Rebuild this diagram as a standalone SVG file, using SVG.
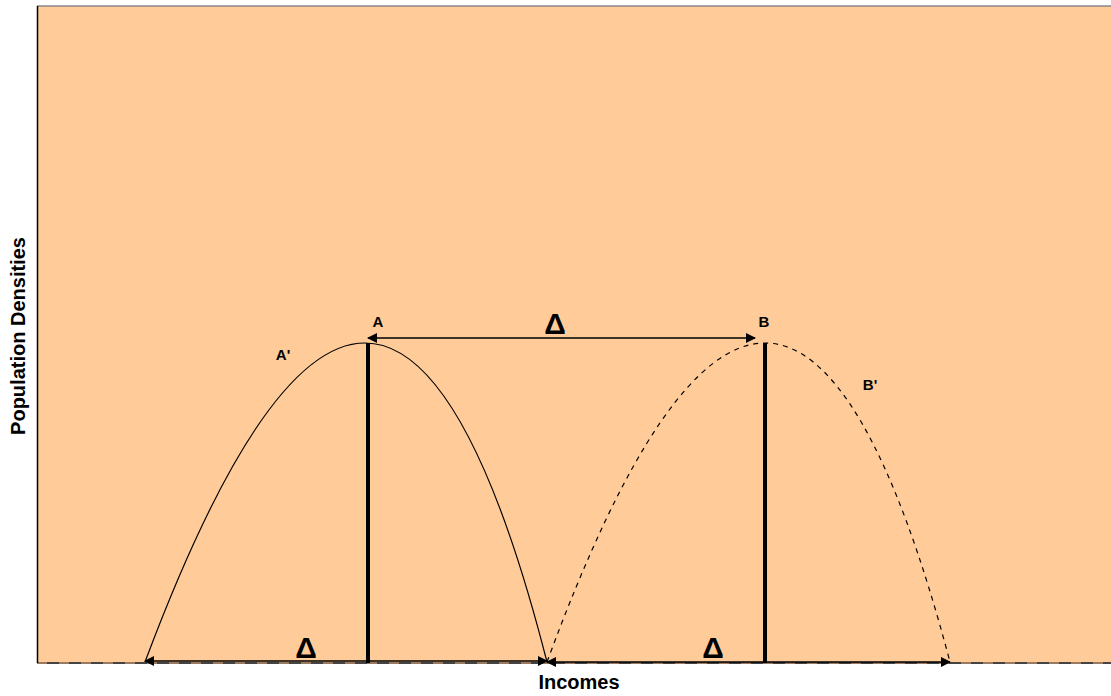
<svg xmlns="http://www.w3.org/2000/svg" width="1111" height="696" viewBox="0 0 1111 696">
<style>
.lbl{font-family:"Liberation Sans",Arial,sans-serif;font-weight:bold;fill:#000}
.delta{font-family:"Liberation Sans",Arial,sans-serif;font-weight:bold;font-size:30px;fill:#000}
.conn{stroke:#000;stroke-width:1.5;fill:none}
</style>
<defs>
<marker id="ah" viewBox="0 0 10 10" refX="9" refY="5" markerWidth="10" markerHeight="10" markerUnits="userSpaceOnUse" orient="auto-start-reverse">
<path d="M0,0 L10,5 L0,10 z" fill="#000"/>
</marker>
</defs>
<rect width="1111" height="696" fill="#fff"/>
<g id="plot">
<rect x="37" y="6" width="1074" height="657" fill="#FFCC99"/>
<line x1="37" y1="6" x2="1111" y2="6" stroke="#888" stroke-width="1.5"/>
<line x1="37" y1="663" x2="1111" y2="663" stroke="#444" stroke-width="2"/>
<line x1="37" y1="663" x2="1111" y2="663" stroke="#9a7a60" stroke-width="2" stroke-dasharray="10,12"/>
<line x1="37.5" y1="6" x2="37.5" y2="663" stroke="#000" stroke-width="1.5"/>
</g>
<g id="curve-a">
<path d="M145,662 Q384,24 547,662" fill="none" stroke="#000" stroke-width="1.2"/>
<line x1="368" y1="343" x2="368" y2="663" stroke="#000" stroke-width="4"/>
<text class="lbl" x="378" y="327" font-size="15" text-anchor="middle">A</text>
<text class="lbl" x="283" y="360" font-size="15" text-anchor="middle">A'</text>
</g>
<g id="curve-b">
<path d="M547,662 Q781.5,24 950,662" fill="none" stroke="#000" stroke-width="1.2" stroke-dasharray="5,5"/>
<line x1="765" y1="343" x2="765" y2="663" stroke="#000" stroke-width="4"/>
<text class="lbl" x="764" y="327" font-size="15" text-anchor="middle">B</text>
<text class="lbl" x="870" y="390" font-size="15" text-anchor="middle">B'</text>
</g>
<g id="connectors">
<line class="conn" x1="368" y1="338" x2="755" y2="338" marker-start="url(#ah)" marker-end="url(#ah)"/>
<line class="conn" x1="145" y1="661" x2="547" y2="661" marker-start="url(#ah)" marker-end="url(#ah)"/>
<line class="conn" x1="547" y1="662" x2="950" y2="662" marker-start="url(#ah)" marker-end="url(#ah)"/>
</g>
<g id="deltas">
<text class="delta" x="555" y="334" text-anchor="middle">Δ</text>
<text class="delta" x="306" y="658" text-anchor="middle">Δ</text>
<text class="delta" x="713" y="658" text-anchor="middle">Δ</text>
</g>
<g id="axes-labels">
<text class="lbl" x="579" y="689" font-size="20" text-anchor="middle">Incomes</text>
<text class="lbl" x="0" y="0" font-size="20" text-anchor="middle" transform="translate(25,336) rotate(-90)">Population Densities</text>
</g>
</svg>
